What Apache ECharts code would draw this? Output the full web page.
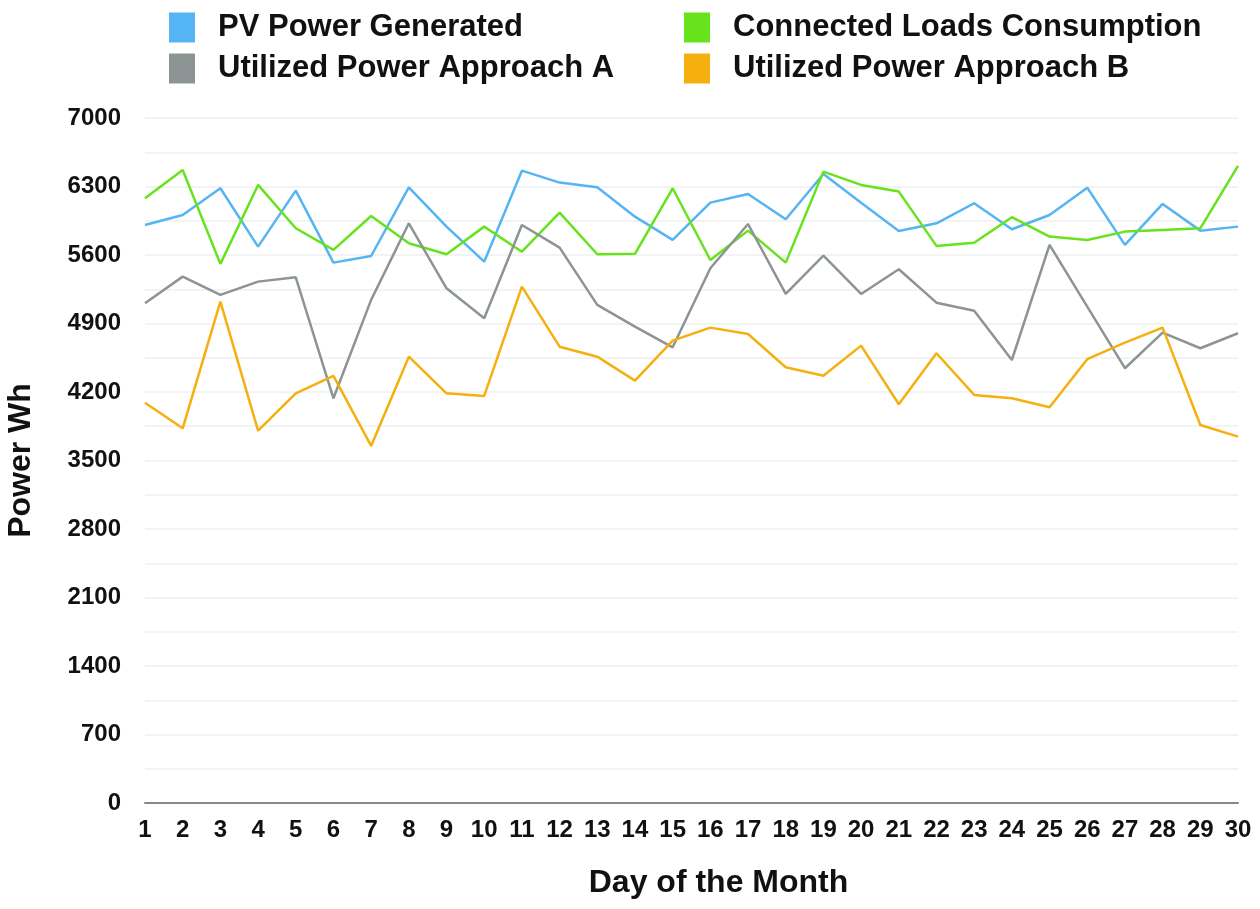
<!DOCTYPE html>
<html><head><meta charset="utf-8">
<script src="https://cdn.jsdelivr.net/npm/echarts@6/dist/echarts.min.js"></script>
<style>html,body{margin:0;padding:0;background:#fff}#c{width:1260px;height:909px}</style>
</head><body><div id="c"></div>
<script>
const days = Array.from({length:30},(_,i)=>String(i+1));
const pvGenerated = [5907,6009,6282,5686,6258,5522,5590,6292,5890,5532,6462,6340,6292,5992,5754,6135,6224,5965,6428,6135,5846,5924,6129,5863,6009,6288,5703,6122,5849,5890];
const loadsConsumption = [6180,6469,5509,6316,5873,5652,5999,5720,5608,5890,5634,6033,5608,5612,6282,5549,5849,5522,6452,6316,6248,5693,5726,5986,5788,5754,5839,5856,5873,6510];
const approachA = [5107,5379,5192,5328,5372,4136,5141,5924,5260,4954,5907,5675,5090,4868,4657,5465,5917,5202,5594,5202,5454,5113,5031,4527,5703,5072,4443,4807,4647,4800];
const approachB = [4091,3829,5123,3805,4187,4364,3649,4561,4187,4160,5277,4663,4561,4316,4725,4858,4793,4453,4367,4674,4075,4596,4170,4136,4044,4535,4704,4858,3863,3744];
const seriesNames = ['PV Power Generated','Connected Loads Consumption','Utilized Power Approach A','Utilized Power Approach B'];
const colors = ['#55b4f3','#66e31c','#8c9494','#f5b00f'];
const FONT = '"Liberation Sans", Arial, sans-serif';
const chart = echarts.init(document.getElementById('c'));
const legendBase = {orient:'vertical', itemWidth:26, itemHeight:30, itemGap:10, icon:'rect',
  textStyle:{fontFamily:FONT, fontWeight:'bold', fontSize:31, color:'#111', padding:[0,0,0,18]}};
chart.setOption({
  animation:false,
  color: colors,
  legend:[
    Object.assign({}, legendBase, {left:164, top:7, data:[seriesNames[0], seriesNames[2]]}),
    Object.assign({}, legendBase, {left:679, top:7, data:[seriesNames[1], seriesNames[3]]})
  ],
  grid:{left:145, right:22, top:118, bottom:106, containLabel:false, outerBoundsMode:'none'},
  xAxis:{type:'category', data:days, boundaryGap:false,
    name:'Day of the Month', nameLocation:'middle', nameGap:64,
    nameTextStyle:{fontFamily:FONT, fontWeight:'bold', fontSize:32, color:'#111', padding:[0,0,0,54]},
    axisLine:{lineStyle:{color:'#888', width:2}}, axisTick:{show:false},
    axisLabel:{fontFamily:FONT, fontWeight:'bold', fontSize:24, color:'#111', margin:15, interval:0},
    splitLine:{show:false}},
  yAxis:{type:'value', min:0, max:7000, interval:350,
    name:'Power Wh', nameLocation:'middle', nameGap:108,
    nameTextStyle:{fontFamily:FONT, fontWeight:'bold', fontSize:32, color:'#111'},
    axisLine:{show:false}, axisTick:{show:false},
    axisLabel:{fontFamily:FONT, fontWeight:'bold', fontSize:24, color:'#111', margin:24,
      formatter:v => (v % 700 === 0 ? String(v) : '')},
    splitLine:{lineStyle:{color:'#efefef', width:1.5}}},
  series:[
    {name:seriesNames[0], type:'line', data:pvGenerated, showSymbol:false, lineStyle:{width:2.5}},
    {name:seriesNames[1], type:'line', data:loadsConsumption, showSymbol:false, lineStyle:{width:2.5}},
    {name:seriesNames[2], type:'line', data:approachA, showSymbol:false, lineStyle:{width:2.5}},
    {name:seriesNames[3], type:'line', data:approachB, showSymbol:false, lineStyle:{width:2.5}}
  ]
});
</script></body></html>
